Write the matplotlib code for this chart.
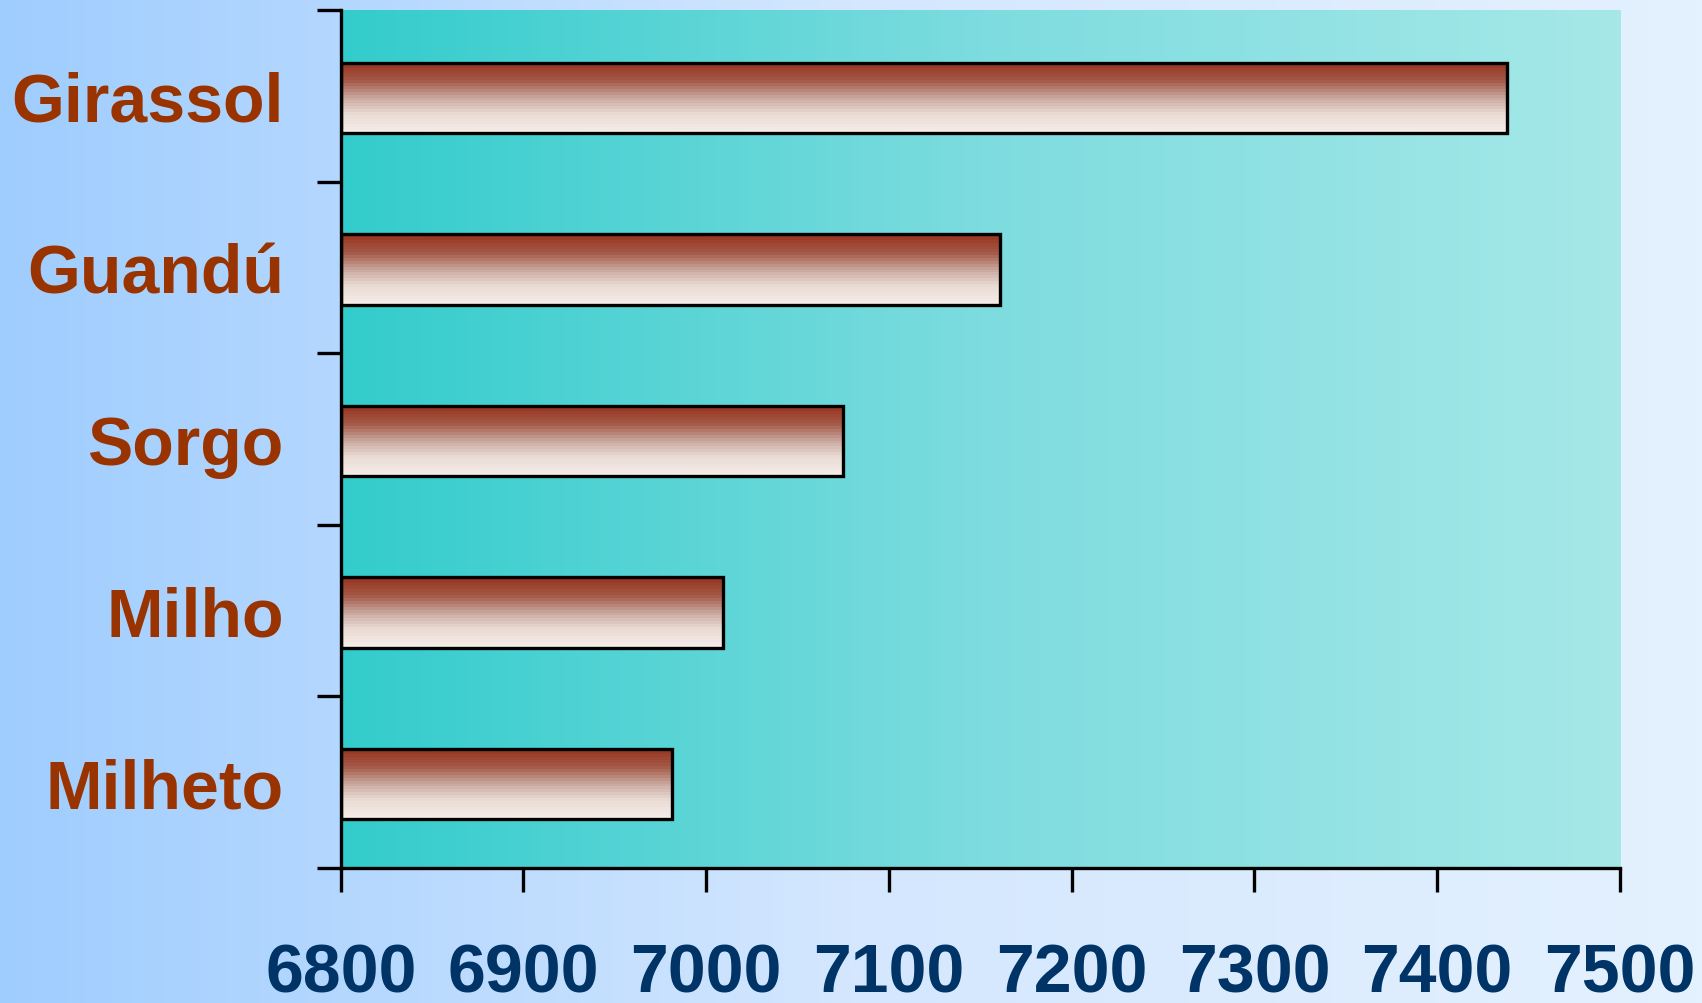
import numpy as np
import matplotlib.pyplot as plt
from matplotlib.colors import LinearSegmentedColormap

# data, bottom to top
crops = ["Milheto", "Milho", "Sorgo", "Guandú", "Girassol"]
values = [6981, 7009, 7075, 7161, 7438]
xticks = [6800, 6900, 7000, 7100, 7200, 7300, 7400, 7500]

xmin, xmax = 6800, 7500
bar_h = 0.41

plt.rcParams['font.family'] = ['Liberation Sans', 'DejaVu Sans']

fig = plt.figure(figsize=(17.02, 10.04), dpi=100)

# figure background gradient (left -> right)
bg = fig.add_axes([0, 0, 1, 1], zorder=-10)
bg_cmap = LinearSegmentedColormap.from_list("bg", ["#9fcdfe", "#d4e7fe", "#e4f1fe"])
bg.imshow(np.linspace(0, 1, 256)[None, :], cmap=bg_cmap, aspect='auto',
          extent=[0, 1, 0, 1])
bg.axis('off')

ax = fig.add_axes([0.2002, 0.1345, 0.7516, 0.8545])
ax.patch.set_alpha(0)

# plot area gradient
pa_cmap = LinearSegmentedColormap.from_list("pa", ["#33cccc", "#7ddcdf", "#a6e8e8"])
ax.imshow(np.linspace(0, 1, 256)[None, :], cmap=pa_cmap, aspect='auto',
          extent=[xmin, xmax, -0.5, len(crops) - 0.5], zorder=0)

# bars with vertical gradient (sit a touch below the band centre)
bar_cmap = LinearSegmentedColormap.from_list(
    "bar", ["#f6ece8", "#eadcd5", "#c9a79d", "#a55a48", "#963420"])
grad = np.linspace(0, 1, 24)[:, None]
ypos = np.arange(len(crops))
ybar = ypos - 0.012
for y, v in zip(ybar, values):
    ax.imshow(grad, cmap=bar_cmap, aspect='auto', origin='lower',
              interpolation='nearest',
              extent=[xmin, v, y - bar_h / 2, y + bar_h / 2], zorder=2)
bars = ax.barh(ybar, [v - xmin for v in values], left=xmin, height=bar_h,
               facecolor='none', edgecolor='black', linewidth=2.4, zorder=3)

ax.set_xlim(xmin, xmax)
ax.set_ylim(-0.5, len(crops) - 0.5)

for s in ['top', 'right']:
    ax.spines[s].set_visible(False)
for s in ['left', 'bottom']:
    ax.spines[s].set_linewidth(2.4)
    ax.spines[s].set_zorder(5)

ax.set_xticks(xticks)
ax.set_xticklabels([str(t) for t in xticks])
ax.tick_params(axis='x', direction='out', length=17.3, width=2.4, pad=35.5,
               labelsize=49, labelcolor='#003366')
for lab in ax.get_xticklabels():
    lab.set_fontweight('bold')

ax.set_yticks(ypos)
ax.set_yticklabels(crops)
ax.set_yticks(np.arange(-0.5, len(crops)), minor=True)
ax.tick_params(axis='y', which='major', length=0, pad=41, labelsize=49,
               labelcolor='#993300')
ax.tick_params(axis='y', which='minor', direction='out', length=17.3, width=2.4)
for lab in ax.get_yticklabels():
    lab.set_fontweight('bold')

fig.savefig("out.png", dpi=100)
